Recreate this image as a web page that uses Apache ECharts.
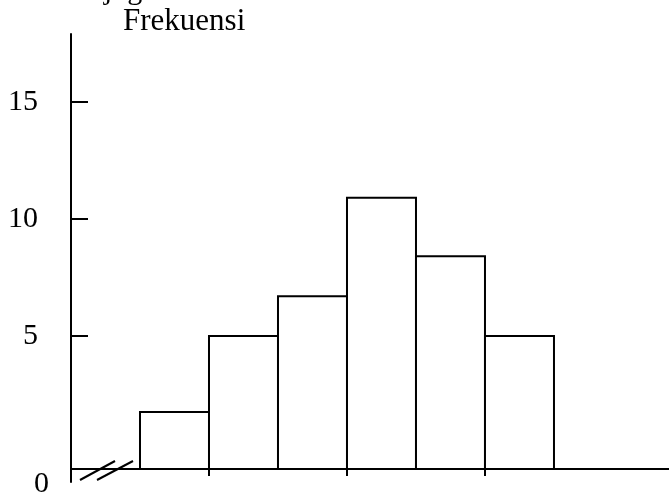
<!DOCTYPE html>
<html><head><meta charset="utf-8">
<script src="https://cdn.jsdelivr.net/npm/echarts@6/dist/echarts.min.js"></script>
<style>html,body{margin:0;padding:0;background:#fff}#c{width:669px;height:496px}</style>
</head><body><div id="c"></div>
<script>
// Histogram classes (unlabelled in the source) and frequencies
var classIndex = [0, 1, 2, 3, 4, 5];
var frequency = [1.75, 5, 6.7, 10.9, 8.4, 5];
var yTicks = [5, 10, 15];
var xTicks = [1, 3, 5];
var yAxisTitle = 'Frekuensi';
var zeroLabel = '0';
var baseValue = -0.68; // broken-axis baseline

var FONT = '"Liberation Serif", "Times New Roman", serif';
var chart = echarts.init(document.getElementById('c'), null, {renderer: 'canvas'});
var data = classIndex.map(function (c, i) { return [c, frequency[i]]; });

chart.setOption({
  animation: false,
  backgroundColor: '#fff',
  grid: {left: 71, right: 0, top: 34, bottom: 14},
  xAxis: {
    type: 'value', min: -1, max: 7.667,
    offset: -13,
    axisLine: {show: true, onZero: false, lineStyle: {color: '#000', width: 2}},
    axisTick: {show: true, customValues: xTicks, length: 7, lineStyle: {color: '#000', width: 2}},
    axisLabel: {show: false},
    splitLine: {show: false}
  },
  yAxis: {
    type: 'value', min: -1.24, max: 17.9,
    axisLine: {show: true, onZero: false, lineStyle: {color: '#000', width: 2}},
    axisTick: {show: true, inside: true, length: 17, customValues: yTicks, lineStyle: {color: '#000', width: 2}},
    axisLabel: {show: true, customValues: yTicks, margin: 33, color: '#000', fontFamily: FONT, fontSize: 30},
    splitLine: {show: false}
  },
  series: [{
    type: 'custom',
    data: data,
    renderItem: function (params, api) {
      var x = api.value(0), v = api.value(1);
      var p1 = api.coord([x, v]);
      var p2 = api.coord([x + 1, baseValue]);
      return {
        type: 'rect',
        shape: {x: p1[0], y: p1[1], width: p2[0] - p1[0], height: p2[1] - p1[1]},
        style: {fill: '#fff', stroke: '#000', lineWidth: 2}
      };
    }
  }],
  graphic: [
    {type: 'text', left: 123, top: 6, style: {text: yAxisTitle, font: '31px ' + FONT, fill: '#000'}},
    {type: 'text', x: 104, y: -24, style: {text: 'juga', font: '30px ' + FONT, fill: '#000'}},
    {type: 'text', x: 34, y: 484, style: {text: zeroLabel, font: '30px ' + FONT, fill: '#000', verticalAlign: 'middle', align: 'left'}},
    {type: 'line', shape: {x1: 80, y1: 480, x2: 115, y2: 461}, style: {stroke: '#000', lineWidth: 2}},
    {type: 'line', shape: {x1: 97, y1: 480, x2: 133, y2: 461}, style: {stroke: '#000', lineWidth: 2}}
  ]
});
</script></body></html>
